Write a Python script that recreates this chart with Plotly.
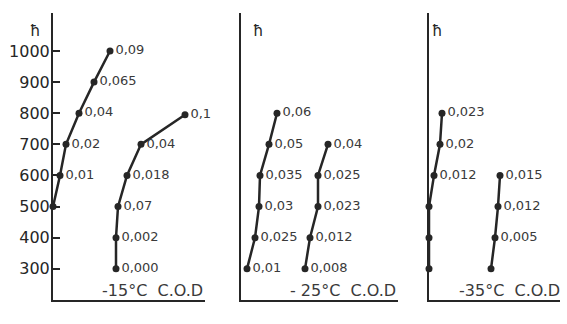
import plotly.graph_objects as go

W, H = 567, 324

# y values (altitude h) and horizontal offsets (arbitrary px-like units from panel axis)
h_a = [500, 600, 700, 800, 900, 1000]
x_a = [0, 7, 13, 26, 41, 57]
t_a = ["", "0,01", "0,02", "0,04", "0,065", "0,09"]

h_b = [300, 400, 500, 600, 700, 795]
x_b = [63, 63, 65, 74, 88, 132]
t_b = ["0,000", "0,002", "0,07", "0,018", "0,04", "0,1"]

h_c = [300, 400, 500, 600, 700, 800]
x_c = [6, 14, 18, 19, 28, 36]
t_c = ["0,01", "0,025", "0,03", "0,035", "0,05", "0,06"]

h_d = [300, 400, 500, 600, 700]
x_d = [64, 69, 77, 77, 87]
t_d = ["0,008", "0,012", "0,023", "0,025", "0,04"]

h_e = [300, 400, 500, 600, 700, 800]
x_e = [0, 0, 0, 5, 11, 13]
t_e = ["", "", "", "0,012", "0,02", "0,023"]

h_f = [300, 400, 500, 600]
x_f = [62, 66, 69, 71]
t_f = ["", "0,005", "0,012", "0,015"]

panel_titles = ["-15°C  C.O.D", "- 25°C  C.O.D", "-35°C  C.O.D"]
y_ticks = [300, 400, 500, 600, 700, 800, 900, 1000]

# panel pixel extents
panels = [(53, 205), (241, 398), (429, 560)]

INK = "#262626"
TXT = "#3a3a3a"

fig = go.Figure()

series = [
    (x_a, h_a, t_a, 1), (x_b, h_b, t_b, 1),
    (x_c, h_c, t_c, 2), (x_d, h_d, t_d, 2),
    (x_e, h_e, t_e, 3), (x_f, h_f, t_f, 3),
]
for xs, hs, ts, p in series:
    sfx = "" if p == 1 else str(p)
    fig.add_trace(go.Scatter(
        x=xs, y=hs, text=ts, mode="lines+markers+text",
        textposition="middle right",
        textfont=dict(family="DejaVu Sans", size=13, color=TXT),
        line=dict(color=INK, width=2.5),
        marker=dict(color=INK, size=7),
        cliponaxis=False, showlegend=False,
        xaxis="x" + sfx, yaxis="y" + sfx,
    ))

layout = dict(
    width=W, height=H,
    margin=dict(l=0, r=0, t=13, b=24),
    paper_bgcolor="white", plot_bgcolor="rgba(0,0,0,0)",
    showlegend=False,
)
for i, (x0, x1) in enumerate(panels):
    sfx = "" if i == 0 else str(i + 1)
    layout["xaxis" + sfx] = dict(
        domain=[x0 / W, x1 / W], range=[0, x1 - x0],
        showgrid=False, zeroline=False, showticklabels=False, ticks="",
        showline=True, linecolor=INK, linewidth=2,
        anchor="y" + sfx, fixedrange=True,
    )
    yax = dict(
        range=[200, 1122], showgrid=False, zeroline=False,
        showline=True, linecolor=INK, linewidth=2,
        anchor="x" + sfx, fixedrange=True,
    )
    if i == 0:
        yax.update(tickvals=y_ticks, ticktext=[str(v) for v in y_ticks],
                   ticks="inside", ticklen=7, tickwidth=2, tickcolor=INK,
                   ticklabelstandoff=-2,
                   tickfont=dict(family="DejaVu Sans", size=16, color=INK))
    else:
        yax.update(showticklabels=False, ticks="")
    layout["yaxis" + sfx] = yax

fig.update_layout(**layout)

# axis labels under each panel
label_x = [205, 398, 562]
for lx, t in zip(label_x, panel_titles):
    fig.add_annotation(x=lx / W, y=(H - 313) / H, xref="paper", yref="paper",
                       text=t, showarrow=False, xanchor="right", yanchor="middle",
                       font=dict(family="DejaVu Sans", size=16, color=TXT))

# "ħ" symbols near each axis top
for hx in [35, 258, 437]:
    fig.add_annotation(x=hx / W, y=(H - 20) / H, xref="paper", yref="paper",
                       text="ħ", showarrow=False, xanchor="center", yanchor="middle",
                       font=dict(family="DejaVu Sans", size=15, color=INK))

fig.write_html("out.html")
